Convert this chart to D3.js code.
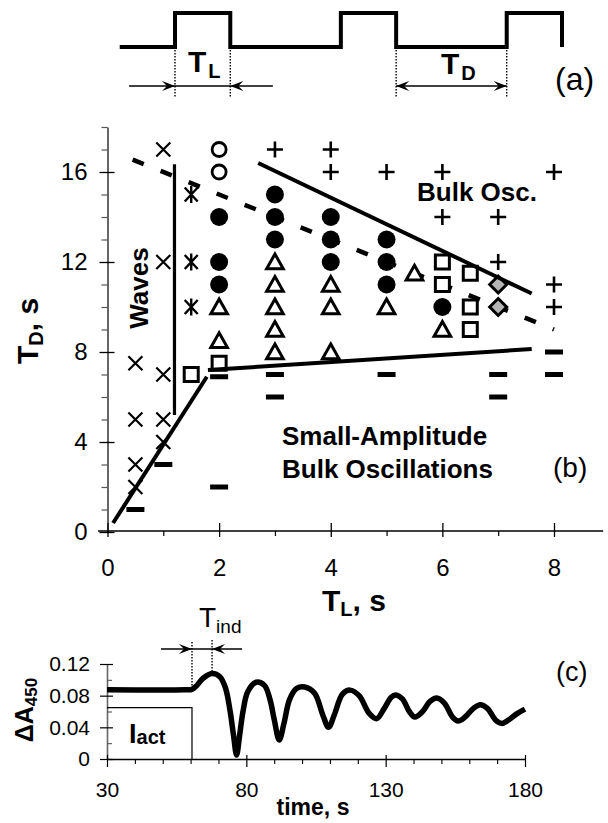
<!DOCTYPE html>
<html><head><meta charset="utf-8">
<script src="https://cdn.jsdelivr.net/npm/d3@7"></script>
<style>
body{margin:0;background:#fff}
svg{display:block}
text{font-family:"Liberation Sans",Arial,Helvetica,sans-serif;fill:#000}
</style>
</head><body>
<svg id="chart" width="608" height="823"></svg>
<script>
// ---------------- DATA ----------------
// Panel (a): light pulse schedule (units of T_L)
const pulseOn = [0, 3, 6];
const pulseLength = 1;
const signalStart = -1;
const signalEnd = 7;
const tlArrow = [-0.83, 1.77];
const tdArrow = [4, 6];

// Panel (b): regime diagram, [T_L, T_D]
const crossPts = [[0.5,7.5],[0.5,5],[0.5,3],[0.5,2],[1,17],[1,12],[1,7],[1,5],[1,4]];
const asteriskPts = [[1.5,15],[1.5,12],[1.5,10]];
const openCirclePts = [[2,17],[2,16]];
const filledCirclePts = [[2,14],[2,12],[2,11],[3,15],[3,14],[3,13],[4,14],[4,13],[4,12],[5,13],[5,12],[5,11],[6,10]];
const trianglePts = [[2,10],[2,8.5],[3,12],[3,11],[3,10],[3,9],[3,8],[4,11],[4,10],[4,8],[5,10],[5.5,11.5],[6,9]];
const squarePts = [[1.5,7],[2,7.5],[6,12],[6,11],[6.5,11.5],[6.5,10],[6.5,9]];
const diamondPts = [[7,11],[7,10]];
const plusPts = [[3,17],[4,17],[4,16],[5,16],[6,16],[6,14],[7,14],[7,12],[8,16],[8,11],[8,10]];
const barPts = [[0.5,1],[1,3],[2,6.9],[2,2],[3,7],[3,6],[5,7],[7,7],[7,6],[8,8],[8,7]];

const solidLines = [
  [[0.1,0.4],[1.78,6.9]],
  [[1.8,7.2],[7.6,8.13]],
  [[2.7,16.4],[7.6,10.6]]
];
const wavesLine = [[1.2,16.35],[1.2,5.2]];
const dashedLine = [[0.45,16.55],[8.0,9.0]];

const xTicksB = [0,2,4,6,8];
const xMinorB = [1,3,5,7];
const yTicksB = [0,4,8,12,16];
const yMinorB = [1,2,3,5,6,7,9,10,11,13,14,15,17,18];

// Panel (c): absorbance trace
const traceTime = [30,58,60.5,62,64.5,67.7,70.5,72.5,74.2,75.4,76.5,77.6,78.8,80.5,83.5,86.5,88.5,90,91.8,93.5,95.5,98,101,104.5,107.5,109.5,111.5,114.5,117.2,120.5,124,126.8,129.5,132,133.5,136,138.5,140.5,143,146,148.3,151,154,156,158.5,161.5,164,166.5,169.5,171.6,174,177,180];
const traceDA = [0.0875,0.0875,0.088,0.092,0.102,0.108,0.104,0.09,0.06,0.03,0.005,0.03,0.06,0.085,0.097,0.093,0.075,0.05,0.024,0.045,0.075,0.089,0.091,0.083,0.055,0.040,0.055,0.082,0.087,0.080,0.058,0.051,0.064,0.078,0.081,0.076,0.060,0.053,0.059,0.073,0.077,0.071,0.053,0.048,0.053,0.064,0.0685,0.064,0.049,0.045,0.049,0.057,0.063];
const iActStep = [[30,0.065],[60.5,0.065],[60.5,0]];
const tIndMarks = [60.5, 67.7];
const xTicksC = [30,80,130,180];
const xMinorC = [40,50,60,70,90,100,110,120,140,150,160,170];
const yTicksC = [0,0.04,0.08,0.12];
const yMinorC = [0.02,0.06,0.10];

// ---------------- DRAW ----------------
const svg = d3.select('#chart');
const FONT = '"Liberation Sans",Arial,sans-serif';

function arrowHead(g, x, y, dir) {
  const L = 13, W = 5, N = 8;
  g.append('path')
    .attr('d', `M${x},${y} L${x - dir*L},${y - W} L${x - dir*N},${y} L${x - dir*L},${y + W} Z`)
    .attr('fill', '#000');
}

// ---- Panel (a)
const xA = d3.scaleLinear().domain([0, 7]).range([175, 562]);
const yA = d3.scaleLinear().domain([0, 1]).range([47, 13]);
const pulsePts = [[signalStart, 0]];
pulseOn.forEach(t => { pulsePts.push([t,0],[t,1],[t+pulseLength,1],[t+pulseLength,0]); });
if (pulsePts[pulsePts.length-1][0] < signalEnd) pulsePts.push([signalEnd,0]);
const gA = svg.append('g');
gA.append('path')
  .attr('d', d3.line().x(d => xA(d[0])).y(d => yA(d[1]))(pulsePts))
  .attr('fill','none').attr('stroke','#000').attr('stroke-width',4).attr('stroke-linejoin','miter');
[pulseOn[0], pulseOn[0]+pulseLength, tdArrow[0], tdArrow[1]].forEach(t => {
  gA.append('line').attr('x1', xA(t)).attr('x2', xA(t)).attr('y1', 50).attr('y2', 97)
    .attr('stroke','#000').attr('stroke-width',1.4).attr('stroke-dasharray','1.5,1.5');
});
const arrowY = 86;
gA.append('line').attr('x1', xA(tlArrow[0])).attr('x2', xA(tlArrow[1])).attr('y1', arrowY).attr('y2', arrowY)
  .attr('stroke','#000').attr('stroke-width',1.5);
arrowHead(gA, xA(0), arrowY, 1);
arrowHead(gA, xA(1), arrowY, -1);
gA.append('line').attr('x1', xA(tdArrow[0])).attr('x2', xA(tdArrow[1])).attr('y1', arrowY).attr('y2', arrowY)
  .attr('stroke','#000').attr('stroke-width',1.5);
arrowHead(gA, xA(tdArrow[0]), arrowY, -1);
arrowHead(gA, xA(tdArrow[1]), arrowY, 1);
const tl = gA.append('text').attr('x', 188).attr('y', 72).style('font-weight','bold');
tl.append('tspan').style('font-size','30px').text('T');
tl.append('tspan').style('font-size','20px').attr('dx', 2).attr('dy', 6).text('L');
const td = gA.append('text').attr('x', 441).attr('y', 74).style('font-weight','bold');
td.append('tspan').style('font-size','30px').text('T');
td.append('tspan').style('font-size','20px').attr('dx', 2).attr('dy', 6).text('D');
gA.append('text').attr('x', 555).attr('y', 90).style('font-size','32px').text('(a)');

// ---- Panel (b)
const xB = d3.scaleLinear().domain([0, 8]).range([107.5, 554]);
const yB = d3.scaleLinear().domain([0, 18]).range([532, 127]);
const gB = svg.append('g');

const yAxB = gB.append('g').attr('transform', `translate(${xB(0)},0)`)
  .call(d3.axisLeft(yB).tickValues(yTicksB).tickSize(8).tickSizeOuter(0).tickPadding(12));
yAxB.selectAll('.tick line').attr('x1', 7).attr('stroke','#000').attr('stroke-width',1.3);
yAxB.select('.domain').attr('stroke','#666').attr('stroke-width',2);
yAxB.selectAll('.tick text').style('font-size','24px').style('font-family',FONT);
gB.append('g').attr('transform', `translate(${xB(0)},0)`)
  .call(d3.axisLeft(yB).tickValues(yMinorB).tickSize(6).tickFormat(''))
  .call(g => g.select('.domain').remove())
  .selectAll('.tick line').attr('stroke','#555').attr('stroke-width',1.2);

const xAxB = gB.append('g').attr('transform', `translate(0,${yB(0)-1})`)
  .call(d3.axisBottom(xB).tickValues(xTicksB).tickSize(6).tickSizeOuter(0).tickPadding(22));
xAxB.select('.domain').remove();
xAxB.selectAll('.tick line').attr('y1', -8).attr('stroke','#000').attr('stroke-width',1.3);
xAxB.selectAll('.tick text').style('font-size','24px').style('font-family',FONT);
xAxB.append('line').attr('x1', xB(-0.17)).attr('x2', xB(8.88)).attr('y1',0).attr('y2',0)
  .attr('stroke','#000').attr('stroke-width',1.3);
gB.append('g').attr('transform', `translate(0,${yB(0)-1})`)
  .call(d3.axisBottom(xB).tickValues(xMinorB).tickSize(5).tickFormat(''))
  .call(g => g.select('.domain').remove())
  .selectAll('.tick line').attr('stroke','#000').attr('stroke-width',1.2);

// dashed boundary
(function(){
  const p0 = [xB(dashedLine[0][0]), yB(dashedLine[0][1])];
  const p1 = [xB(dashedLine[1][0]), yB(dashedLine[1][1])];
  gB.append('line').attr('x1',p0[0]).attr('y1',p0[1]).attr('x2',p1[0]).attr('y2',p1[1])
    .attr('stroke','#000').attr('stroke-width',4.5).attr('stroke-dasharray','12,18.2');
})();

// markers
function plot(pts, drawFn) {
  pts.forEach(p => {
    const g = gB.append('g').attr('transform', `translate(${xB(p[0])},${yB(p[1])})`);
    drawFn(g);
  });
}
plot(crossPts, g => {
  g.append('path').attr('d','M-7,-7L7,7M-7,7L7,-7').attr('stroke','#000').attr('stroke-width',2.2);
});
plot(asteriskPts, g => {
  g.append('path').attr('d','M-6.5,-7L6.5,7M-6.5,7L6.5,-7M0,-8.5L0,8.5').attr('stroke','#000').attr('stroke-width',2.4);
});
plot(openCirclePts, g => {
  g.append('circle').attr('r',7).attr('fill','#fff').attr('stroke','#000').attr('stroke-width',2.8);
});
plot(filledCirclePts, g => {
  g.append('circle').attr('r',9).attr('fill','#000');
});
plot(trianglePts, g => {
  g.append('path').attr('d','M0,-8L8.3,6.8L-8.3,6.8Z').attr('fill','#fff').attr('stroke','#000').attr('stroke-width',3);
});
plot(squarePts, g => {
  g.append('rect').attr('x',-7).attr('y',-7).attr('width',14).attr('height',14)
    .attr('fill','#fff').attr('stroke','#000').attr('stroke-width',3);
});
plot(diamondPts, g => {
  g.append('path').attr('d','M0,-8.5L8.5,0L0,8.5L-8.5,0Z').attr('fill','#b5b5b5').attr('stroke','#000').attr('stroke-width',3);
});
plot(plusPts, g => {
  g.append('path').attr('d','M-8,0L8,0M0,-8L0,8').attr('stroke','#000').attr('stroke-width',2.6);
});
plot(barPts, g => {
  g.append('rect').attr('x',-9).attr('y',-2.5).attr('width',18).attr('height',5).attr('fill','#000');
});

// solid boundaries
solidLines.forEach(seg => {
  gB.append('line').attr('x1', xB(seg[0][0])).attr('y1', yB(seg[0][1]))
    .attr('x2', xB(seg[1][0])).attr('y2', yB(seg[1][1]))
    .attr('stroke','#000').attr('stroke-width',4);
});
gB.append('line').attr('x1', xB(wavesLine[0][0])).attr('y1', yB(wavesLine[0][1]))
  .attr('x2', xB(wavesLine[1][0])).attr('y2', yB(wavesLine[1][1]))
  .attr('stroke','#000').attr('stroke-width',3.2);

// labels
gB.append('text').attr('transform','translate(148,288) rotate(-90)').attr('text-anchor','middle')
  .style('font-weight','bold').style('font-size','26px').text('Waves');
gB.append('text').attr('x',417).attr('y',201).style('font-weight','bold').style('font-size','26px').text('Bulk Osc.');
gB.append('text').attr('x',282).attr('y',445).style('font-weight','bold').style('font-size','26px').text('Small-Amplitude');
gB.append('text').attr('x',282).attr('y',478).style('font-weight','bold').style('font-size','26px').text('Bulk Oscillations');
gB.append('text').attr('x',553).attr('y',477).style('font-size','28px').text('(b)');
const xl = gB.append('text').attr('x',322).attr('y',611).style('font-weight','bold');
xl.append('tspan').style('font-size','30px').text('T');
xl.append('tspan').style('font-size','20px').attr('dy',5).text('L');
xl.append('tspan').style('font-size','30px').attr('dy',-5).text(', s');
const yl = gB.append('text').attr('transform','translate(38,331) rotate(-90)').attr('text-anchor','middle').style('font-weight','bold');
yl.append('tspan').style('font-size','30px').text('T');
yl.append('tspan').style('font-size','20px').attr('dy',5).text('D');
yl.append('tspan').style('font-size','30px').attr('dy',-5).text(', s');

// ---- Panel (c)
const xC = d3.scaleLinear().domain([30, 180]).range([107, 525]);
const yC = d3.scaleLinear().domain([0, 0.12]).range([759, 664]);
const gC = svg.append('g');

const yAxC = gC.append('g').attr('transform', `translate(${xC(30)},0)`)
  .call(d3.axisLeft(yC).tickValues(yTicksC).tickSize(7).tickSizeOuter(0).tickPadding(10)
    .tickFormat(d => d === 0 ? '0' : d3.format('.2f')(d)));
yAxC.selectAll('.tick line').attr('x1', 6).attr('stroke','#000').attr('stroke-width',1.2);
yAxC.select('.domain').attr('stroke','#666').attr('stroke-width',1.6);
yAxC.selectAll('.tick text').style('font-size','21px').style('font-family',FONT);
gC.append('g').attr('transform', `translate(${xC(30)},0)`)
  .call(d3.axisRight(yC).tickValues(yMinorC).tickSize(5).tickFormat(''))
  .call(g => g.select('.domain').remove())
  .selectAll('.tick line').attr('stroke','#555').attr('stroke-width',1.1);

const xAxC = gC.append('g').attr('transform', `translate(0,${yC(0)})`)
  .call(d3.axisBottom(xC).tickValues(xTicksC).tickSize(8).tickSizeOuter(0).tickPadding(15));
xAxC.selectAll('.tick line').attr('y1', -4).attr('stroke','#000').attr('stroke-width',1.2);
xAxC.select('.domain').attr('stroke','#000').attr('stroke-width',1.3);
xAxC.selectAll('.tick text').style('font-size','21px').style('font-family',FONT);
gC.append('g').attr('transform', `translate(0,${yC(0)})`)
  .call(d3.axisBottom(xC).tickValues(xMinorC).tickSize(5).tickFormat(''))
  .call(g => g.select('.domain').remove())
  .selectAll('.tick line').attr('stroke','#000').attr('stroke-width',1.1);

// I_act step
gC.append('path')
  .attr('d', d3.line().x(d => xC(d[0])).y(d => yC(d[1]))(iActStep))
  .attr('fill','none').attr('stroke','#000').attr('stroke-width',1.2);

// trace
const traceData = traceTime.map((t,i) => [t, traceDA[i]]);
gC.append('path')
  .attr('d', d3.line().x(d => xC(d[0])).y(d => yC(d[1])).curve(d3.curveCatmullRom.alpha(0.5))(traceData))
  .attr('fill','none').attr('stroke','#000').attr('stroke-width',5.5).attr('stroke-linejoin','round');

// T_ind marks
const indY = 649;
gC.append('line').attr('x1', xC(tIndMarks[0]) - 31).attr('x2', xC(tIndMarks[1]) + 30)
  .attr('y1', indY).attr('y2', indY).attr('stroke','#000').attr('stroke-width',1.4);
arrowHead(gC, xC(tIndMarks[0]), indY, 1);
arrowHead(gC, xC(tIndMarks[1]), indY, -1);
gC.append('line').attr('x1', xC(tIndMarks[0])).attr('x2', xC(tIndMarks[0])).attr('y1', 642).attr('y2', 687)
  .attr('stroke','#000').attr('stroke-width',1.4).attr('stroke-dasharray','1.5,1.5');
gC.append('line').attr('x1', xC(tIndMarks[1])).attr('x2', xC(tIndMarks[1])).attr('y1', 640).attr('y2', 671)
  .attr('stroke','#000').attr('stroke-width',1.4).attr('stroke-dasharray','1.5,1.5');
const ti = gC.append('text').attr('x',199).attr('y',627);
ti.append('tspan').style('font-size','28px').text('T');
ti.append('tspan').style('font-size','19px').attr('dx',0).attr('dy',6).text('ind');

const ia = gC.append('text').attr('x',129).attr('y',743).style('font-weight','bold');
ia.append('tspan').style('font-size','27px').text('I');
ia.append('tspan').style('font-size','20px').attr('dy',1).text('act');

const yc = gC.append('text').attr('transform','translate(33,710) rotate(-90)').attr('text-anchor','middle').style('font-weight','bold');
yc.append('tspan').style('font-size','25px').text('ΔA');
yc.append('tspan').style('font-size','17px').attr('dy',4).text('450');

gC.append('text').attr('x',313).attr('y',815).attr('text-anchor','middle').style('font-weight','bold').style('font-size','23px').text('time, s');
gC.append('text').attr('x',556).attr('y',681).style('font-size','27px').text('(c)');
</script>
</body></html>
